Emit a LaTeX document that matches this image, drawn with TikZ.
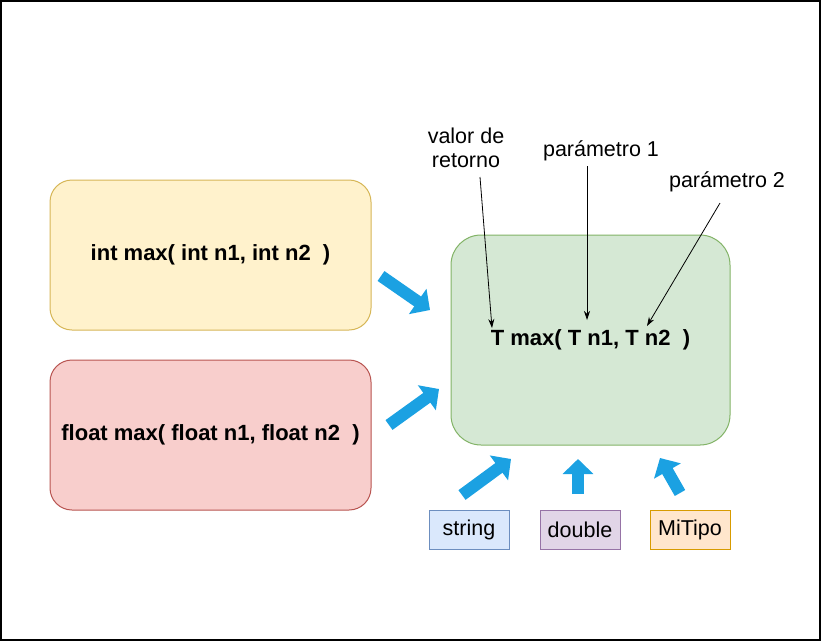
\documentclass[tikz,border=0pt]{standalone}
\usepackage{fontspec}
\setmainfont{Liberation Sans}
\usetikzlibrary{arrows.meta}
\definecolor{yfill}{HTML}{FFF2CC}\definecolor{ystroke}{HTML}{D6B656}
\definecolor{rfill}{HTML}{F8CECC}\definecolor{rstroke}{HTML}{B85450}
\definecolor{gfill}{HTML}{D5E8D4}\definecolor{gstroke}{HTML}{82B366}
\definecolor{bfill}{HTML}{DAE8FC}\definecolor{bstroke}{HTML}{6C8EBF}
\definecolor{pfill}{HTML}{E1D5E7}\definecolor{pstroke}{HTML}{9673A6}
\definecolor{ofill}{HTML}{FFE6CC}\definecolor{ostroke}{HTML}{D79B00}
\definecolor{arrowblue}{HTML}{1BA1E2}
\begin{document}
\begin{tikzpicture}[x=1pt,y=-1pt,
  every node/.style={font=\fontsize{21.5}{24}\selectfont, inner sep=0pt, outer sep=0pt},
  bigbox/.style={draw, line width=1pt, rounded corners=22pt, minimum width=321pt, minimum height=150pt, font=\fontsize{22}{24}\selectfont\bfseries},
  typebox/.style={draw, line width=1pt, minimum width=80pt, minimum height=39pt},
  fat/.style={line width=12pt, arrowblue, -{Triangle[width=30pt,length=15pt]}},
  thin/.style={line width=0.8pt, -{Stealth[length=9pt,width=6pt]}},
  lbl/.style={align=center}]
\useasboundingbox (0,0) rectangle (821,641);
\draw[line width=2pt] (1,1) rectangle (820,640);

\node[bigbox, fill=yfill, draw=ystroke] (intbox) at (210.5,255) {\raisebox{-2pt}{int max( int n1, int n2\ \ )}};
\node[bigbox, fill=rfill, draw=rstroke] (floatbox) at (210.5,435) {\raisebox{-3pt}{float max( float n1, float n2\ \ )}};
\node[bigbox, fill=gfill, draw=gstroke, minimum width=279pt, minimum height=210pt, rounded corners=30pt] (tbox) at (590.5,340) {\raisebox{-2pt}{T max( T n1, T n2\ \ )}};

\node[typebox, fill=bfill, draw=bstroke] (str) at (469,529.5) {\raisebox{-2pt}{string}};
\node[typebox, fill=pfill, draw=pstroke] (dbl) at (580,529.5) {\raisebox{-2pt}{double}};
\node[typebox, fill=ofill, draw=ostroke] (mit) at (690,529.5) {\raisebox{-2pt}{MiTipo}};

\node[lbl] (ret) at (466,148) {valor de\\retorno};
\node[lbl] (p1) at (601,151) {parámetro 1};
\node[lbl] (p2) at (727,182) {parámetro 2};

\coordinate (retS) at (480,177);
\coordinate (retE) at (492,328);
\coordinate (p1S) at (587,166);
\coordinate (p1E) at (587,320);
\coordinate (p2S) at (720,203);
\coordinate (p2E) at (647,326);
\draw[thin] (retS) -- (retE);
\draw[thin] (p1S) -- (p1E);
\draw[thin] (p2S) -- (p2E);

\coordinate (f1S) at (381,276); \coordinate (f1E) at (430,310);
\coordinate (f2S) at (389,425); \coordinate (f2E) at (439,389);
\coordinate (f3S) at (462,495); \coordinate (f3E) at (511,459);
\coordinate (f4S) at (578,494); \coordinate (f4E) at (578,459);
\coordinate (f5S) at (680,493); \coordinate (f5E) at (660,458);
\draw[fat] (f1S) -- (f1E);
\draw[fat] (f2S) -- (f2E);
\draw[fat] (f3S) -- (f3E);
\draw[fat] (f4S) -- (f4E);
\draw[fat] (f5S) -- (f5E);
\end{tikzpicture}
\end{document}
